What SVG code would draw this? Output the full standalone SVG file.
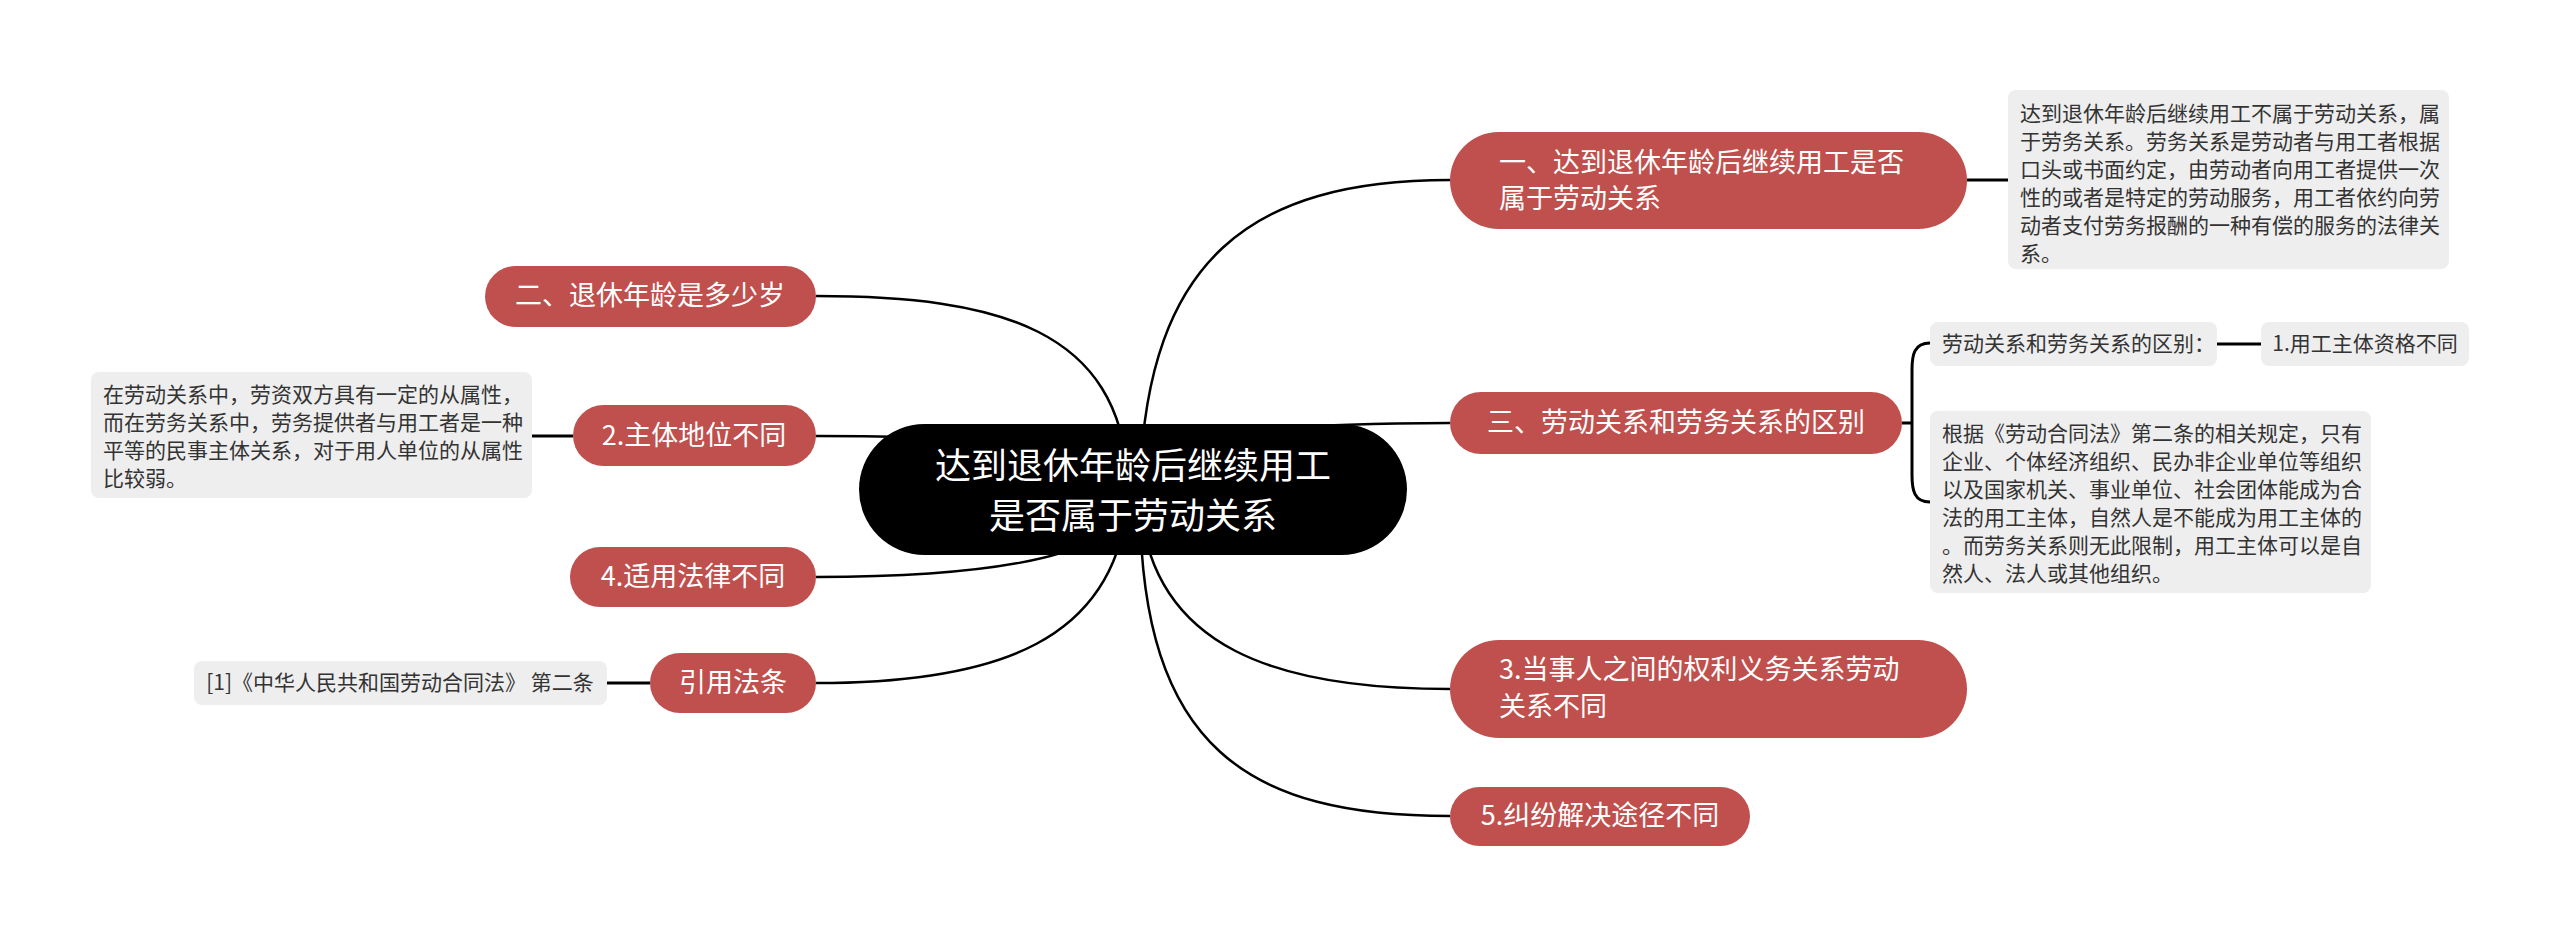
<svg xmlns="http://www.w3.org/2000/svg" width="2560" height="937" viewBox="0 0 2560 937">
<style>
.conn{fill:none;stroke:#000;stroke-width:2.5}
.short{fill:none;stroke:#000;stroke-width:3}
.red{fill:#C0504D}
.gray{fill:#EEEEEE}
.rt{font-family:"Noto Sans CJK SC","Noto Sans",sans-serif;font-size:27px;fill:#fff}
.dt{font-family:"Noto Sans CJK SC","Noto Sans",sans-serif;font-size:21px;fill:#333}
.root{font-family:"Noto Sans CJK SC","Noto Sans",sans-serif;font-size:36px;fill:#fff}
</style>
<rect width="2560" height="937" fill="#fff"/>
<g id="connectors">
<path class="conn" d="M1140 480 C1148 260,1250 180,1450 180"/>
<path class="conn" d="M1140 480 C1150 430,1300 423,1450 423"/>
<path class="conn" d="M1140 500 C1150 650,1280 689,1450 689"/>
<path class="conn" d="M1140 500 C1140 750,1250 816,1450 816"/>
<path class="conn" d="M1128 480 C1120 330,1000 296,816 296"/>
<path class="conn" d="M1128 480 C1120 440,950 436,816 436"/>
<path class="conn" d="M1128 500 C1120 565,950 577,816 577"/>
<path class="conn" d="M1128 500 C1115 640,1000 683,816 683"/>
<path class="short" d="M1967 180 L2008 180"/>
<path class="short" d="M1902 423 L1912 423"/>
<path class="short" d="M1930 343 C1914 343,1912 355,1912 370 L1912 475 C1912 490,1914 502,1930 502"/>
<path class="short" d="M2217 344 L2261 344"/>
<path class="short" d="M532 436 L573 436"/>
<path class="short" d="M607 683 L650 683"/>
</g>
<g id="root">
<rect x="859" y="424" width="548" height="131" rx="65.5" fill="#000"/>
<text class="root" x="1133" y="479" text-anchor="middle">达到退休年龄后继续用工</text>
<text class="root" x="1133" y="529" text-anchor="middle">是否属于劳动关系</text>
</g>
<g id="n1">
<rect class="red" x="1450" y="132" width="517" height="97" rx="48.5"/>
<text class="rt" x="1499" y="172">一、达到退休年龄后继续用工是否</text>
<text class="rt" x="1499" y="208">属于劳动关系</text>
</g>
<g id="n1d">
<rect class="gray" x="2008" y="90" width="441" height="179" rx="8"/>
<text class="dt" x="2020" y="121">达到退休年龄后继续用工不属于劳动关系，属</text>
<text class="dt" x="2020" y="149">于劳务关系。劳务关系是劳动者与用工者根据</text>
<text class="dt" x="2020" y="177">口头或书面约定，由劳动者向用工者提供一次</text>
<text class="dt" x="2020" y="205">性的或者是特定的劳动服务，用工者依约向劳</text>
<text class="dt" x="2020" y="233">动者支付劳务报酬的一种有偿的服务的法律关</text>
<text class="dt" x="2020" y="261">系。</text>
</g>
<g id="n3">
<rect class="red" x="1450" y="392" width="452" height="62" rx="31"/>
<text class="rt" x="1676" y="432" text-anchor="middle">三、劳动关系和劳务关系的区别</text>
</g>
<g id="n3a">
<rect class="gray" x="1930" y="322" width="287" height="44" rx="8"/>
<text class="dt" x="1942" y="351">劳动关系和劳务关系的区别：</text>
</g>
<g id="n3a1">
<rect class="gray" x="2261" y="322" width="208" height="44" rx="8"/>
<text class="dt" x="2365" y="351" text-anchor="middle">1.用工主体资格不同</text>
</g>
<g id="n3b">
<rect class="gray" x="1930" y="411" width="441" height="182" rx="8"/>
<text class="dt" x="1942" y="441">根据《劳动合同法》第二条的相关规定，只有</text>
<text class="dt" x="1942" y="469">企业、个体经济组织、民办非企业单位等组织</text>
<text class="dt" x="1942" y="497">以及国家机关、事业单位、社会团体能成为合</text>
<text class="dt" x="1942" y="525">法的用工主体，自然人是不能成为用工主体的</text>
<text class="dt" x="1942" y="553">。而劳务关系则无此限制，用工主体可以是自</text>
<text class="dt" x="1942" y="581">然人、法人或其他组织。</text>
</g>
<g id="n4">
<rect class="red" x="1450" y="640" width="517" height="98" rx="49"/>
<text class="rt" x="1499" y="679">3.当事人之间的权利义务关系劳动</text>
<text class="rt" x="1499" y="716">关系不同</text>
</g>
<g id="n5">
<rect class="red" x="1450" y="787" width="300" height="59" rx="29.5"/>
<text class="rt" x="1600" y="825" text-anchor="middle">5.纠纷解决途径不同</text>
</g>
<g id="l1">
<rect class="red" x="485" y="266" width="331" height="61" rx="30.5"/>
<text class="rt" x="650" y="305" text-anchor="middle">二、退休年龄是多少岁</text>
</g>
<g id="l2">
<rect class="red" x="573" y="405" width="243" height="61" rx="30.5"/>
<text class="rt" x="694" y="445" text-anchor="middle">2.主体地位不同</text>
</g>
<g id="l2d">
<rect class="gray" x="91" y="372" width="441" height="126" rx="8"/>
<text class="dt" x="103" y="402">在劳动关系中，劳资双方具有一定的从属性，</text>
<text class="dt" x="103" y="430">而在劳务关系中，劳务提供者与用工者是一种</text>
<text class="dt" x="103" y="458">平等的民事主体关系，对于用人单位的从属性</text>
<text class="dt" x="103" y="486">比较弱。</text>
</g>
<g id="l3">
<rect class="red" x="570" y="547" width="246" height="60" rx="30"/>
<text class="rt" x="693" y="586" text-anchor="middle">4.适用法律不同</text>
</g>
<g id="l4">
<rect class="red" x="650" y="653" width="166" height="60" rx="30"/>
<text class="rt" x="733" y="692" text-anchor="middle">引用法条</text>
</g>
<g id="l4d">
<rect class="gray" x="194" y="661" width="413" height="44" rx="8"/>
<text class="dt" x="400" y="690" text-anchor="middle">[1]《中华人民共和国劳动合同法》 第二条</text>
</g>
</svg>
